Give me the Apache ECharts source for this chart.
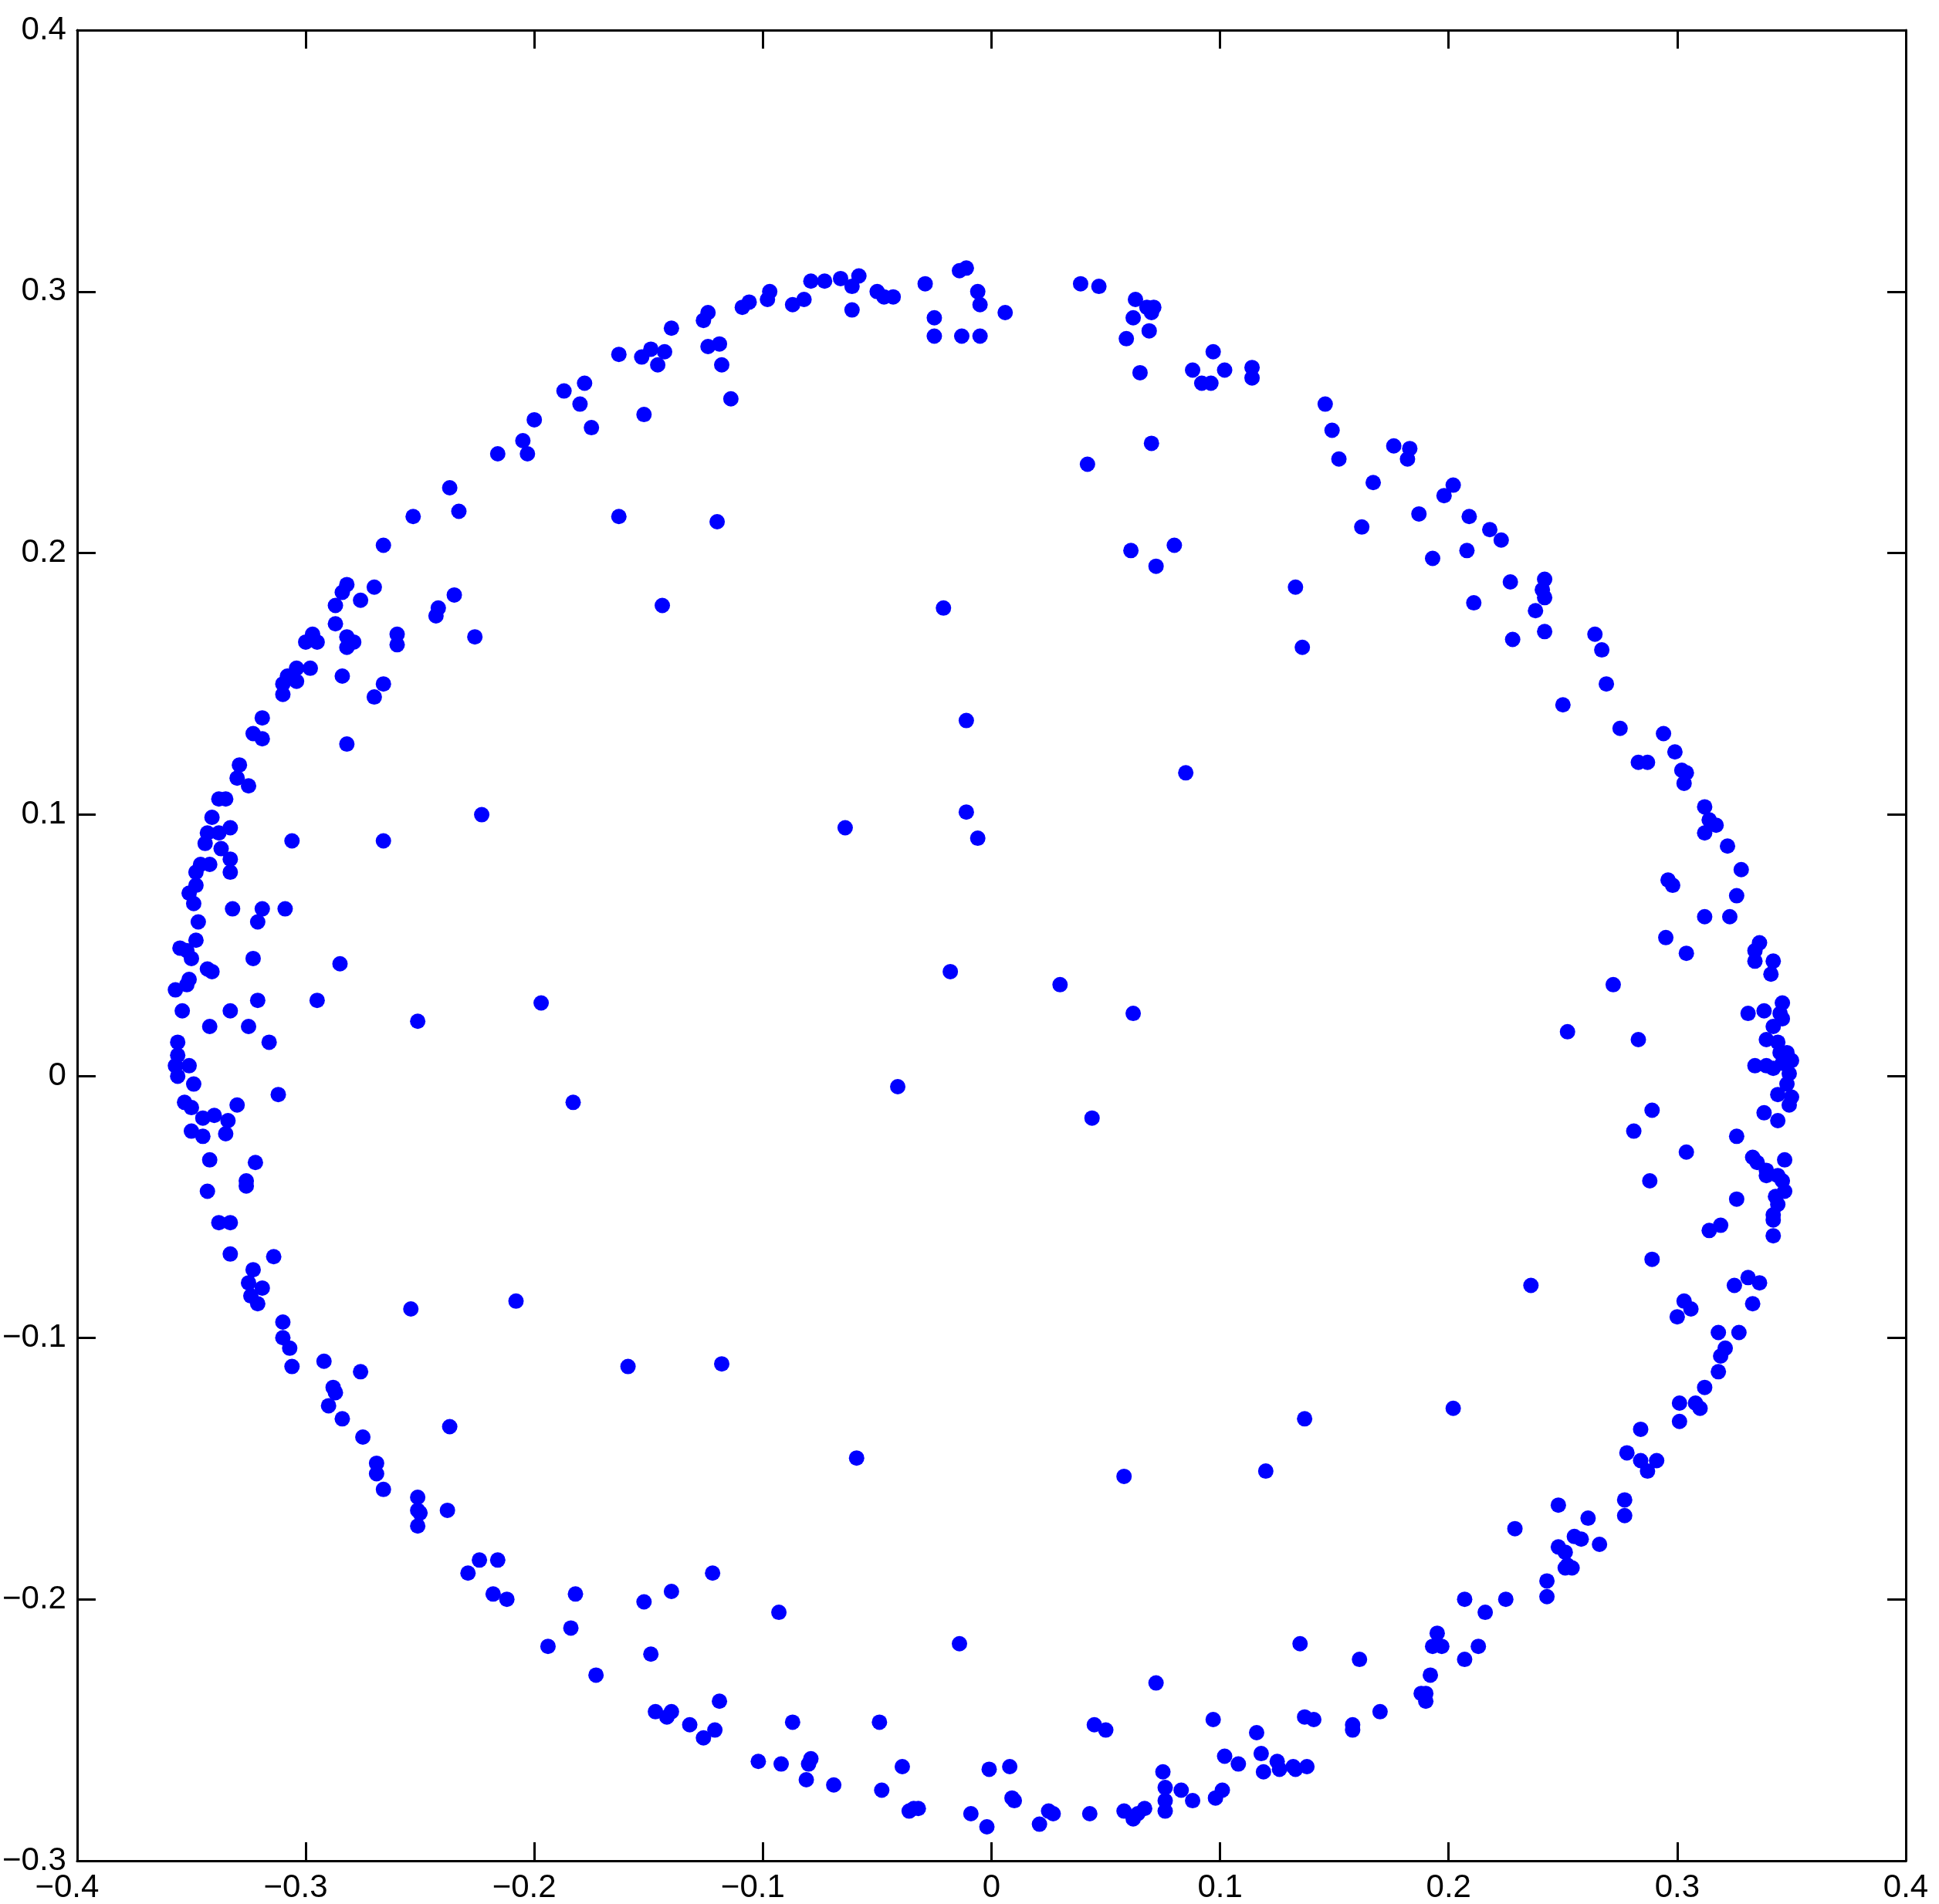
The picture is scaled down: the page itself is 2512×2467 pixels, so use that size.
<!DOCTYPE html>
<html>
<head>
<meta charset="utf-8">
<script src="https://cdn.jsdelivr.net/npm/echarts@6/dist/echarts.min.js"></script>
<style>
  html, body { margin: 0; padding: 0; background: #ffffff; }
  #chart { width: 2512px; height: 2467px; }
</style>
</head>
<body>
<div id="chart"></div>
<script>
// Tick values
const xTicks = [-0.4, -0.3, -0.2, -0.1, 0, 0.1, 0.2, 0.3, 0.4];
const yTicks = [-0.3, -0.2, -0.1, 0, 0.1, 0.2, 0.3, 0.4];

// Scatter points [x, y], grouped by region of the ring
const upperLeftArc = [
  [-0.011,0.309],[-0.014,0.308],[-0.029,0.303],[-0.006,0.300],[-0.005,0.295],[0.006,0.292],
  [-0.025,0.290],[-0.025,0.283],[-0.013,0.283],[-0.005,0.283],[-0.050,0.300],[-0.047,0.298],
  [-0.043,0.298],[-0.061,0.293],[-0.066,0.305],[-0.061,0.302],[-0.058,0.306],[-0.079,0.304],
  [-0.073,0.304],[-0.087,0.295],[-0.082,0.297],[-0.097,0.300],[-0.098,0.297],[-0.109,0.294],
  [-0.106,0.296],[-0.124,0.292],[-0.126,0.289],[-0.140,0.286],[-0.119,0.280],[-0.124,0.279],
  [-0.118,0.272],[-0.114,0.259],[-0.163,0.276],[-0.149,0.278],[-0.153,0.275],[-0.143,0.277],
  [-0.146,0.272],[-0.178,0.265],[-0.187,0.262],[-0.180,0.257],[-0.175,0.248],[-0.200,0.251],
  [-0.205,0.243],[-0.203,0.238],[-0.216,0.238],[-0.152,0.253],[-0.237,0.225],[-0.233,0.216],
  [-0.253,0.214],[-0.163,0.214],[-0.120,0.212],[-0.266,0.203],[-0.144,0.180],[-0.021,0.179],
  [-0.329,0.119],[-0.319,0.137],[-0.323,0.131],[-0.319,0.129],[-0.282,0.127],[-0.304,0.156],
  [-0.298,0.156],[-0.308,0.153],[-0.304,0.151],[-0.310,0.150],[-0.310,0.146],[-0.284,0.153],
  [-0.266,0.150],[-0.270,0.145],[-0.297,0.169],[-0.300,0.166],[-0.295,0.166],[-0.287,0.173],
  [-0.282,0.168],[-0.279,0.166],[-0.282,0.164],[-0.260,0.169],[-0.260,0.165],[-0.226,0.168],
  [-0.242,0.179],[-0.243,0.176],[-0.235,0.184],[-0.282,0.188],[-0.284,0.185],[-0.270,0.187],
  [-0.276,0.182],[-0.287,0.180]
];

const upperRightArc = [
  [0.039,0.303],[0.047,0.302],[0.063,0.297],[0.068,0.294],[0.071,0.294],[0.070,0.292],
  [0.062,0.290],[0.069,0.285],[0.059,0.282],[0.065,0.269],[0.097,0.277],[0.088,0.270],
  [0.092,0.265],[0.096,0.265],[0.102,0.270],[0.114,0.271],[0.114,0.267],[0.070,0.242],
  [0.042,0.234],[0.146,0.257],[0.149,0.247],[0.152,0.236],[0.176,0.241],[0.183,0.240],
  [0.182,0.236],[0.167,0.227],[0.202,0.226],[0.198,0.222],[0.187,0.215],[0.162,0.210],
  [0.209,0.214],[0.218,0.209],[0.223,0.205],[0.208,0.201],[0.193,0.198],[0.061,0.201],
  [0.080,0.203],[0.072,0.195],[0.133,0.187],[0.136,0.164],[0.227,0.189],[0.242,0.190],
  [0.241,0.186],[0.242,0.183],[0.211,0.181],[0.238,0.178],[0.228,0.167],[0.242,0.170],
  [0.264,0.169],[0.267,0.163],[0.269,0.150],[0.250,0.142],[0.275,0.133],[0.294,0.131],
  [0.299,0.124],[0.283,0.120],[0.287,0.120],[0.302,0.117],[0.304,0.116],[0.303,0.112],
  [0.312,0.103],[0.314,0.098],[0.317,0.096],[0.312,0.093],[0.322,0.088]
];

const rightSide = [
  [0.328,0.079],[0.296,0.075],[0.298,0.073],[0.326,0.069],[0.312,0.061],[0.323,0.061],
  [0.295,0.053],[0.304,0.047],[0.336,0.051],[0.334,0.048],[0.334,0.044],[0.342,0.044],
  [0.341,0.039],[0.272,0.035],[0.346,0.028],[0.345,0.024],[0.346,0.022],[0.338,0.025],
  [0.331,0.024],[0.342,0.019],[0.339,0.014],[0.344,0.013],[0.345,0.009],[0.348,0.009],
  [0.350,0.006],[0.349,0.001],[0.339,0.004],[0.342,0.003],[0.346,0.005],[0.334,0.004],
  [0.283,0.014],[0.348,-0.003],[0.350,-0.008],[0.344,-0.007],[0.349,-0.011],[0.338,-0.014],
  [0.344,-0.017],[0.326,-0.023],[0.289,-0.013],[0.281,-0.021],[0.304,-0.029],[0.333,-0.031],
  [0.335,-0.033],[0.347,-0.032],[0.339,-0.036],[0.344,-0.038],[0.339,-0.038],[0.346,-0.040],
  [0.347,-0.044],[0.343,-0.046],[0.344,-0.049],[0.288,-0.040],[0.326,-0.047],[0.342,-0.053],
  [0.342,-0.055],[0.342,-0.061],[0.314,-0.059],[0.319,-0.057],[0.289,-0.070],[0.331,-0.077],
  [0.325,-0.080],[0.336,-0.079],[0.333,-0.087],[0.303,-0.086],[0.306,-0.089],[0.300,-0.092],
  [0.318,-0.098],[0.327,-0.098],[0.321,-0.104],[0.319,-0.107],[0.318,-0.113],[0.312,-0.119],
  [0.301,-0.125],[0.308,-0.125],[0.310,-0.127],[0.301,-0.132],[0.284,-0.135],[0.278,-0.144],
  [0.284,-0.147],[0.291,-0.147],[0.287,-0.151],[0.277,-0.162],[0.277,-0.168],[0.248,-0.164],
  [0.261,-0.169],[0.229,-0.173],[0.255,-0.176],[0.258,-0.177],[0.266,-0.179],[0.248,-0.180],
  [0.251,-0.182],[0.252,-0.187],[0.254,-0.188],[0.251,-0.188]
];

const lowerArc = [
  [0.243,-0.193],[0.243,-0.199],[0.225,-0.200],[0.216,-0.205],[0.207,-0.200],[0.195,-0.213],
  [0.193,-0.218],[0.197,-0.218],[0.213,-0.218],[0.207,-0.223],[0.192,-0.229],[0.188,-0.236],
  [0.190,-0.236],[0.190,-0.239],[0.170,-0.243],[0.158,-0.248],[0.158,-0.250],[0.137,-0.245],
  [0.141,-0.246],[0.097,-0.246],[0.116,-0.251],[0.102,-0.260],[0.108,-0.263],[0.118,-0.259],
  [0.125,-0.262],[0.119,-0.266],[0.126,-0.265],[0.133,-0.265],[0.138,-0.264],[0.132,-0.264],
  [0.098,-0.276],[0.101,-0.273],[0.075,-0.266],[0.076,-0.272],[0.076,-0.277],[0.076,-0.281],
  [0.083,-0.273],[0.088,-0.277],[0.067,-0.280],[0.064,-0.282],[0.058,-0.281],[0.043,-0.282],
  [0.025,-0.281],[0.027,-0.282],[0.010,-0.277],[0.009,-0.276],[-0.009,-0.282],[0.045,-0.248],
  [0.050,-0.250],[-0.001,-0.265],[0.008,-0.264],[-0.032,-0.280],[-0.034,-0.280],[-0.036,-0.281],
  [-0.039,-0.264],[-0.048,-0.273],[-0.049,-0.247],[-0.087,-0.247],[-0.102,-0.262],[-0.092,-0.263],
  [-0.079,-0.261],[-0.080,-0.263],[-0.081,-0.269],[-0.069,-0.271],[-0.014,-0.217],[0.072,-0.232],
  [0.135,-0.217],[0.161,-0.223],[-0.002,-0.287],[0.021,-0.286],[0.062,-0.284]
];

const lowerLeftArc = [
  [-0.254,-0.089],[-0.208,-0.086],[-0.310,-0.094],[-0.310,-0.100],[-0.307,-0.104],[-0.306,-0.111],
  [-0.292,-0.109],[-0.276,-0.113],[-0.159,-0.111],[-0.118,-0.110],[-0.288,-0.119],[-0.287,-0.121],
  [-0.290,-0.126],[-0.284,-0.131],[-0.237,-0.134],[-0.275,-0.138],[-0.269,-0.148],[-0.269,-0.152],
  [-0.266,-0.158],[-0.251,-0.161],[-0.251,-0.166],[-0.250,-0.167],[-0.251,-0.172],[-0.238,-0.166],
  [-0.224,-0.185],[-0.216,-0.185],[-0.229,-0.190],[-0.218,-0.198],[-0.212,-0.200],[-0.182,-0.198],
  [-0.152,-0.201],[-0.140,-0.197],[-0.122,-0.190],[-0.093,-0.205],[-0.184,-0.211],[-0.194,-0.218],
  [-0.149,-0.221],[-0.173,-0.229],[-0.119,-0.239],[-0.147,-0.243],[-0.140,-0.243],[-0.142,-0.245],
  [-0.132,-0.248],[-0.121,-0.250],[-0.126,-0.253]
];

const leftSide = [
  [-0.330,0.114],[-0.325,0.111],[-0.338,0.106],[-0.335,0.106],[-0.223,0.100],[-0.341,0.099],
  [-0.343,0.093],[-0.333,0.095],[-0.338,0.093],[-0.344,0.089],[-0.337,0.087],[-0.306,0.090],
  [-0.266,0.090],[-0.333,0.083],[-0.333,0.078],[-0.346,0.081],[-0.342,0.081],[-0.348,0.078],
  [-0.348,0.073],[-0.351,0.070],[-0.349,0.066],[-0.332,0.064],[-0.319,0.064],[-0.321,0.059],
  [-0.309,0.064],[-0.347,0.059],[-0.348,0.052],[-0.355,0.049],[-0.352,0.048],[-0.350,0.045],
  [-0.323,0.045],[-0.285,0.043],[-0.341,0.040],[-0.343,0.041],[-0.351,0.037],[-0.352,0.035],
  [-0.357,0.033],[-0.321,0.029],[-0.295,0.029],[-0.354,0.025],[-0.333,0.025],[-0.251,0.021],
  [-0.342,0.019],[-0.325,0.019],[-0.356,0.013],[-0.316,0.013],[-0.356,0.008],[-0.357,0.004],
  [-0.351,0.004],[-0.356,0.000],[-0.349,-0.003],[-0.312,-0.007],[-0.353,-0.010],[-0.350,-0.012],
  [-0.330,-0.011],[-0.345,-0.016],[-0.340,-0.015],[-0.334,-0.017],[-0.335,-0.022],[-0.350,-0.021],
  [-0.345,-0.023],[-0.342,-0.032],[-0.322,-0.033],[-0.326,-0.040],[-0.326,-0.042],[-0.343,-0.044],
  [-0.338,-0.056],[-0.333,-0.056],[-0.333,-0.068],[-0.314,-0.069],[-0.323,-0.074],[-0.325,-0.079],
  [-0.319,-0.081],[-0.324,-0.084],[-0.321,-0.087]
];

const interior = [
  [-0.064,0.095],[-0.011,0.136],[-0.011,0.101],[-0.006,0.091],[0.085,0.116],[-0.018,0.040],
  [0.030,0.035],[-0.041,-0.004],[0.062,0.024],[0.044,-0.016],[-0.197,0.028],[-0.183,-0.010],
  [-0.059,-0.146],[0.058,-0.153],[0.120,-0.151],[0.137,-0.131],[0.202,-0.127],[0.236,-0.080],
  [0.252,0.017]
];

const allPoints = [].concat(upperLeftArc, upperRightArc, rightSide, lowerArc, lowerLeftArc, leftSide, interior);

function fmt(v) {
  const r = Math.round(v * 10) / 10;
  if (Math.abs(r) < 1e-9) return '0';
  if (r < 0) return '{neg|\u2212' + Math.abs(r).toFixed(1) + '}';
  return r.toFixed(1);
}
function fmtY(v) {
  const r = Math.round(v * 10) / 10;
  if (Math.abs(r) < 1e-9) return '0';
  if (r < 0) return '\u2212' + Math.abs(r).toFixed(1);
  return r.toFixed(1);
}

const font = "'Liberation Sans', Arial, Helvetica, sans-serif";
const lineCol = '#000000';

const chart = echarts.init(document.getElementById('chart'), null, { renderer: 'canvas' });
const axisCommon = {
  type: 'value',
  axisLine: { show: true, onZero: false, lineStyle: { color: lineCol, width: 3 } },
  axisTick: { show: true, inside: true, length: 24, lineStyle: { color: lineCol, width: 3 } },
  splitLine: { show: false }
};
chart.setOption({
  animation: false,
  backgroundColor: '#ffffff',
  grid: { left: 96, right: 43, top: 39, bottom: 54, containLabel: false },
  xAxis: [
    Object.assign({}, axisCommon, {
      position: 'bottom',
      min: xTicks[0], max: xTicks[xTicks.length - 1], interval: 0.1,
      axisLabel: {
        show: true, margin: 14, color: '#000', fontSize: 42, fontFamily: font,
        formatter: fmt,
        rich: { neg: { fontSize: 42, fontFamily: font, color: '#000', padding: [0, 26, 0, 0] } }
      }
    }),
    Object.assign({}, axisCommon, {
      position: 'top',
      min: xTicks[0], max: xTicks[xTicks.length - 1], interval: 0.1,
      axisLabel: { show: false }
    })
  ],
  yAxis: [
    Object.assign({}, axisCommon, {
      position: 'left',
      min: yTicks[0], max: yTicks[yTicks.length - 1], interval: 0.1,
      axisLabel: { show: true, margin: 14, color: '#000', fontSize: 42, fontFamily: font, formatter: fmtY }
    }),
    Object.assign({}, axisCommon, {
      position: 'right',
      min: yTicks[0], max: yTicks[yTicks.length - 1], interval: 0.1,
      axisLabel: { show: false }
    })
  ],
  series: [{
    type: 'scatter',
    xAxisIndex: 0,
    yAxisIndex: 0,
    symbol: 'circle',
    symbolSize: 20,
    itemStyle: { color: '#0000ff', opacity: 1 },
    data: allPoints
  }]
});
</script>
</body>
</html>
